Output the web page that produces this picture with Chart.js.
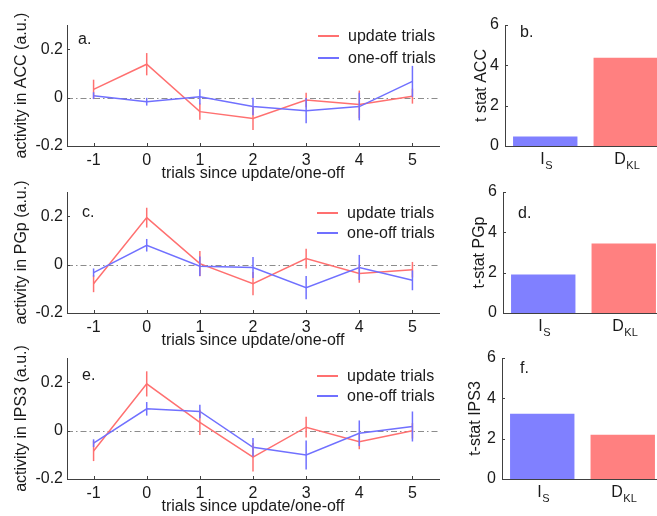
<!DOCTYPE html>
<html>
<head>
<meta charset="utf-8">
<script src="https://cdn.jsdelivr.net/npm/chart.js@4.4.1/dist/chart.umd.min.js"></script>
<style>
  body { margin: 0; width: 657px; height: 516px; overflow: hidden; background: #fff; position: relative;
         font-family: 'Liberation Sans', Arial, Helvetica, sans-serif; }
  canvas { position: absolute; }
  .tag { position: absolute; font-size: 16px; line-height: 19px; color: #1a1a1a; white-space: nowrap; }
  .swatch { position: absolute; width: 21px; height: 1.5px; }
</style>
</head>
<body>

<!-- activity panels (left) -->
<canvas id="chart-acc" width="450" height="184" style="left:0;top:0"></canvas>
<canvas id="chart-pgp" width="450" height="184" style="left:0;top:167px"></canvas>
<canvas id="chart-ips" width="450" height="184" style="left:0;top:333px"></canvas>

<!-- t-stat panels (right) -->
<canvas id="chart-acc-t" width="230" height="184" style="left:442px;top:0"></canvas>
<canvas id="chart-pgp-t" width="230" height="184" style="left:440px;top:167px"></canvas>
<canvas id="chart-ips-t" width="230" height="184" style="left:439px;top:333px"></canvas>

<!-- panel letters -->
<div class="tag" style="left:78px;top:29px">a.</div>
<div class="tag" style="left:82px;top:202px">c.</div>
<div class="tag" style="left:82px;top:365px">e.</div>
<div class="tag" style="left:520px;top:22px">b.</div>
<div class="tag" style="left:518px;top:203px">d.</div>
<div class="tag" style="left:520px;top:358px">f.</div>

<!-- legends (built in HTML) -->
<div id="legend-acc"></div>
<div id="legend-pgp"></div>
<div id="legend-ips"></div>

<script>
// ---- data ----
const trials = [-1, 0, 1, 2, 3, 4, 5];
const activityTicks = [-0.2, 0, 0.2];
const tstatTicks = [0, 2, 4, 6];
const seriesLabels = ['update trials', 'one-off trials'];
const barCategories = ['I_S', 'D_KL'];

// ACC
const accUpdate    = [0.034, 0.138, -0.058, -0.086, -0.010, -0.028, 0.006];
const accUpdateErr = [0.040, 0.046, 0.034, 0.048, 0.030, 0.057, 0.031];
const accOneOff    = [0.008, -0.017, 0.003, -0.037, -0.054, -0.037, 0.067];
const accOneOffErr = [0.014, 0.016, 0.032, 0.036, 0.052, 0.057, 0.064];

// PGp
const pgpUpdate    = [-0.079, 0.194, 0.004, -0.079, 0.025, -0.037, -0.021];
const pgpUpdateErr = [0.035, 0.041, 0.052, 0.048, 0.041, 0.038, 0.032];
const pgpOneOff    = [-0.033, 0.080, -0.007, -0.012, -0.095, -0.012, -0.065];
const pgpOneOffErr = [0.017, 0.026, 0.040, 0.043, 0.048, 0.052, 0.041];

// IPS3
const ipsUpdate    = [-0.084, 0.193, 0.034, -0.110, 0.014, -0.046, -0.001];
const ipsUpdateErr = [0.042, 0.052, 0.052, 0.059, 0.043, 0.031, 0.032];
const ipsOneOff    = [-0.052, 0.090, 0.079, -0.069, -0.101, -0.011, 0.017];
const ipsOneOffErr = [0.016, 0.028, 0.028, 0.038, 0.060, 0.053, 0.062];

// t statistics
const accTstat = [0.47, 4.38];
const pgpTstat = [1.91, 3.45];
const ipsTstat = [3.24, 2.19];

// ---- styles ----
const RED_LINE = '#ff7070';
const BLUE_LINE = '#7070ff';
const RED_BAR = '#ff8080';
const BLUE_BAR = '#8080ff';
const AXIS = '#404040';
const TEXT = '#1a1a1a';
const FAMILY = "'Liberation Sans', Arial, Helvetica, sans-serif";
const FONT = { family: FAMILY, size: 16 };

Chart.defaults.font.family = FAMILY;

// dash-dot zero line
const zeroLine = {
    id: 'zeroLine',
    beforeDatasetsDraw(chart) {
        const { ctx, chartArea, scales } = chart;
        const y = Math.round(scales.y.getPixelForValue(0)) + 0.5;
        ctx.save();
        ctx.strokeStyle = '#8c8c8c';
        ctx.lineWidth = 1;
        ctx.setLineDash([6, 3, 1.5, 3]);
        ctx.beginPath();
        ctx.moveTo(chartArea.left, y);
        ctx.lineTo(chartArea.right, y);
        ctx.stroke();
        ctx.restore();
    }
};

// vertical error bars, no caps
const errorBars = {
    id: 'errorBars',
    afterDatasetsDraw(chart) {
        const { ctx, scales } = chart;
        chart.data.datasets.forEach(ds => {
            if (!ds.errors) return;
            ctx.save();
            ctx.strokeStyle = ds.borderColor;
            ctx.lineWidth = 1.5;
            ds.data.forEach((pt, j) => {
                const x = scales.x.getPixelForValue(pt.x);
                ctx.beginPath();
                ctx.moveTo(x, scales.y.getPixelForValue(pt.y - ds.errors[j]));
                ctx.lineTo(x, scales.y.getPixelForValue(pt.y + ds.errors[j]));
                ctx.stroke();
            });
            ctx.restore();
        });
    }
};

// small tick marks pointing into the plot
const innerTicks = {
    id: 'innerTicks',
    afterDraw(chart) {
        const { ctx, chartArea, scales } = chart;
        ctx.save();
        ctx.strokeStyle = AXIS;
        ctx.lineWidth = 1;
        ctx.beginPath();
        if (scales.x.type === 'linear') {
            scales.x.ticks.forEach(t => {
                const x = Math.round(scales.x.getPixelForValue(t.value)) + 0.5;
                ctx.moveTo(x, chartArea.bottom);
                ctx.lineTo(x, chartArea.bottom - 3);
            });
        }
        scales.y.ticks.forEach(t => {
            const y = Math.round(scales.y.getPixelForValue(t.value)) + 0.5;
            ctx.moveTo(chartArea.left, y);
            ctx.lineTo(chartArea.left + 3, y);
        });
        ctx.stroke();
        ctx.restore();
    }
};

// category labels with subscripts (I_S, D_KL)
const subLabels = {
    id: 'subLabels',
    afterDraw(chart) {
        const { ctx, chartArea, scales } = chart;
        const base = chartArea.bottom + 18;
        ctx.save();
        ctx.fillStyle = TEXT;
        ctx.textBaseline = 'alphabetic';
        ctx.textAlign = 'left';
        chart.data.labels.forEach((lab, i) => {
            const [main, sub] = lab.split('_');
            ctx.font = `16px ${FAMILY}`;
            const wMain = ctx.measureText(main).width;
            ctx.font = `11px ${FAMILY}`;
            const wSub = ctx.measureText(sub).width;
            const x0 = scales.x.getPixelForValue(i) - (wMain + wSub) / 2 + 1;
            ctx.font = `16px ${FAMILY}`;
            ctx.fillText(main, x0, base);
            ctx.font = `11px ${FAMILY}`;
            ctx.fillText(sub, x0 + wMain + 0.5, base + 5);
        });
        ctx.restore();
    }
};

function toPoints(values) {
    return trials.map((t, i) => ({ x: t, y: values[i] }));
}

function makeActivityChart(canvasId, yTitle, update, updateErr, oneOff, oneOffErr) {
    return new Chart(document.getElementById(canvasId), {
        type: 'line',
        data: {
            datasets: [
                { label: seriesLabels[0], data: toPoints(update), errors: updateErr,
                  borderColor: RED_LINE, borderWidth: 1.5, pointRadius: 0, tension: 0, order: 2 },
                { label: seriesLabels[1], data: toPoints(oneOff), errors: oneOffErr,
                  borderColor: BLUE_LINE, borderWidth: 1.5, pointRadius: 0, tension: 0, order: 1 }
            ]
        },
        options: {
            responsive: false,
            animation: false,
            events: [],
            layout: { padding: { top: 25, right: 11, bottom: 0, left: 0 } },
            plugins: { legend: { display: false }, tooltip: { enabled: false } },
            scales: {
                x: {
                    type: 'linear',
                    min: -1.5,
                    max: 5.5,
                    afterBuildTicks: axis => { axis.ticks = trials.map(v => ({ value: v })); },
                    afterFit: axis => { axis.height = 38; },
                    grid: { display: false, drawTicks: false },
                    border: { display: true, color: AXIS, width: 1 },
                    ticks: { color: TEXT, font: FONT, padding: 5, callback: v => String(v) },
                    title: { display: true, text: 'trials since update/one-off', color: TEXT, font: FONT,
                             padding: { top: 0, bottom: 1 } }
                },
                y: {
                    min: -0.2,
                    max: 0.3,
                    afterBuildTicks: axis => { axis.ticks = activityTicks.map(v => ({ value: v })); },
                    afterFit: axis => { axis.width = 67; },
                    grid: { display: false, drawTicks: false },
                    border: { display: true, color: AXIS, width: 1 },
                    ticks: { color: TEXT, font: FONT, padding: 4,
                             callback: v => (v === 0 ? '0' : v.toFixed(1)) },
                    title: { display: true, text: yTitle, color: TEXT, font: FONT,
                             padding: { top: 12, bottom: 0 } }
                }
            }
        },
        plugins: [zeroLine, errorBars, innerTicks]
    });
}

function makeTstatChart(canvasId, yTitle, values, titlePad) {
    return new Chart(document.getElementById(canvasId), {
        type: 'bar',
        data: {
            labels: barCategories,
            datasets: [{
                data: values,
                backgroundColor: [BLUE_BAR, RED_BAR],
                borderWidth: 0,
                barPercentage: 0.8,
                categoryPercentage: 1.0
            }]
        },
        options: {
            responsive: false,
            animation: false,
            events: [],
            layout: { padding: { top: 25, right: 6, bottom: 0, left: 0 } },
            plugins: { legend: { display: false }, tooltip: { enabled: false } },
            scales: {
                x: {
                    afterFit: axis => { axis.height = 38; },
                    grid: { display: false, drawTicks: false },
                    border: { display: true, color: AXIS, width: 1 },
                    ticks: { display: false }
                },
                y: {
                    min: 0,
                    max: 6,
                    afterBuildTicks: axis => { axis.ticks = tstatTicks.map(v => ({ value: v })); },
                    afterFit: axis => { axis.width = 63; },
                    grid: { display: false, drawTicks: false },
                    border: { display: true, color: AXIS, width: 1 },
                    ticks: { color: TEXT, font: FONT, padding: 6 },
                    title: { display: true, text: yTitle, color: TEXT, font: FONT,
                             padding: { top: titlePad, bottom: 0 } }
                }
            }
        },
        plugins: [innerTicks, subLabels]
    });
}

function buildLegend(id, left, rows) {
    const box = document.getElementById(id);
    const colors = [RED_LINE, BLUE_LINE];
    rows.forEach((cy, i) => {
        const sw = document.createElement('div');
        sw.className = 'swatch';
        sw.style.left = left + 'px';
        sw.style.top = (cy - 0.75) + 'px';
        sw.style.background = colors[i];
        box.appendChild(sw);
        const tx = document.createElement('div');
        tx.className = 'tag';
        tx.style.left = (left + 30) + 'px';
        tx.style.top = (cy - 10) + 'px';
        tx.innerText = seriesLabels[i];
        box.appendChild(tx);
    });
}

makeActivityChart('chart-acc', 'activity in ACC (a.u.)', accUpdate, accUpdateErr, accOneOff, accOneOffErr);
makeActivityChart('chart-pgp', 'activity in PGp (a.u.)', pgpUpdate, pgpUpdateErr, pgpOneOff, pgpOneOffErr);
makeActivityChart('chart-ips', 'activity in IPS3 (a.u.)', ipsUpdate, ipsUpdateErr, ipsOneOff, ipsOneOffErr);

makeTstatChart('chart-acc-t', 't stat ACC', accTstat, 30);
makeTstatChart('chart-pgp-t', 't-stat PGp', pgpTstat, 30);
makeTstatChart('chart-ips-t', 't-stat IPS3', ipsTstat, 27);

buildLegend('legend-acc', 318, [36, 58]);
buildLegend('legend-pgp', 317, [213, 233]);
buildLegend('legend-ips', 317, [376, 396]);
</script>
</body>
</html>
